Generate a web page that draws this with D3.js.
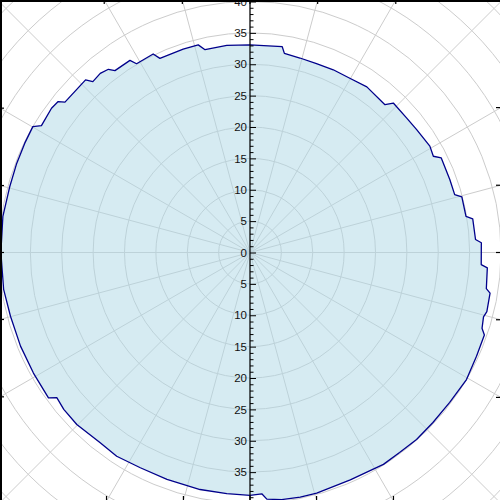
<!DOCTYPE html>
<html>
<head>
<meta charset="utf-8">
<script src="https://cdn.jsdelivr.net/npm/d3@7"></script>
<style>
  body { margin: 0; background: #fff; }
  svg { display: block; }
</style>
</head>
<body>
<svg id="chart" width="500" height="500"></svg>
<script>
// outline points: angle in degrees (clockwise from north) and radial value
const angles = [0, 8.9, 9.8, 14.4, 19.4, 24.5, 29.8, 35.2, 42.4, 43.8, 49.3, 53.6, 59.4, 62.3, 63.7, 70,
    74.2, 75.3, 80.5, 81.4, 86.7, 87.6, 93, 93.7, 98.7, 99.6, 104, 105.4, 108.1, 109.4, 114.6, 120.4,
    126.9, 132.9, 138.3, 143.2, 147.8, 156.2, 164.5, 168.4, 172.7, 176.1, 177.2, 180, 185.5, 191.9,
    200.1, 207, 213.2, 218.2, 225.2, 229.9, 233.1, 234.2, 240.9, 247.8, 255.1, 261.5, 270, 278.3,
    285.3, 290.9, 295.9, 300.1, 301.3, 306, 308.2, 309.1, 316.4, 317.4, 320.1, 322.3, 323.4, 328,
    329, 334, 335.1, 341.8, 346, 347.5, 353.6];
const values = [33.1, 33.2, 32.2, 32.0, 31.9, 32.0, 32.0, 32.3, 31.9, 33.0, 32.9, 33.0, 33.3, 33.0, 34.0, 33.9,
    33.9, 34.9, 34.9, 35.9, 36.0, 36.9, 36.9, 37.9, 38.1, 38.8, 38.9, 38.6, 38.9, 39.6, 39.7, 40.0,
    39.8, 39.8, 39.9, 39.8, 39.9, 39.6, 39.8, 39.8, 39.7, 39.4, 38.5, 38.7, 38.6, 38.6,
    38.5, 38.5, 38.8, 38.6, 38.9, 38.8, 38.5, 39.6, 39.5, 39.5, 39.5, 39.7, 39.7, 39.8,
    39.7, 39.8, 39.9, 40.0, 38.9, 39.1, 38.9, 38.0, 38.0, 37.0, 37.2, 36.9, 36.1, 36.1,
    35.1, 35.2, 34.1, 34.1, 34.1, 33.1, 33.2];

const rings = [5, 10, 15, 20, 25, 30, 35, 40, 45, 50, 55];
const spokes = [0, 15, 30, 45, 60, 75, 90, 105, 120, 135, 150, 165,
    180, 195, 210, 225, 240, 255, 270, 285, 300, 315, 330, 345];
const majorTicks = [-40, -35, -30, -25, -20, -15, -10, -5, 0, 5, 10, 15, 20, 25, 30, 35, 40];

const width = 500, height = 500;
const cx = 250, cy = 252.5;
const rad = Math.PI / 180;

const svg = d3.select("#chart");
const r = d3.scaleLinear().domain([0, 40]).range([0, 251]);
const y = d3.scaleLinear().domain([-40, 40]).range([cy + 251, cy - 251]);

svg.append("rect").attr("width", width).attr("height", height).attr("fill", "#fff");

const plot = svg.append("g").attr("transform", `translate(${cx},${cy})`);

// grid
const grid = plot.append("g")
    .attr("fill", "none")
    .attr("stroke", "#cccccc")
    .attr("stroke-width", 1);

grid.selectAll("circle")
    .data(rings)
    .join("circle")
        .attr("r", d => r(d));

grid.selectAll("line")
    .data(spokes)
    .join("line")
        .attr("x2", d => 420 * Math.sin(d * rad))
        .attr("y2", d => -420 * Math.cos(d * rad));

// area
const points = angles.map((a, i) => ({a: a, v: values[i]}));
const shape = d3.lineRadial()
    .angle(d => d.a * rad)
    .radius(d => r(d.v))
    .curve(d3.curveLinearClosed);

plot.append("path")
    .datum(points)
    .attr("d", shape)
    .attr("fill", "lightblue")
    .attr("fill-opacity", 0.5)
    .attr("stroke", "#00008b")
    .attr("stroke-width", 1.3)
    .attr("stroke-linejoin", "round");

// radial axis, labels on the left, ticks pointing right
const axisG = svg.append("g").attr("transform", `translate(${cx},0)`);

axisG.append("g")
    .call(d3.axisLeft(y)
        .tickValues(d3.range(-40, 41).filter(d => d % 5 !== 0))
        .tickSizeInner(-3.5)
        .tickSizeOuter(0)
        .tickFormat(""))
    .call(g => g.select(".domain").remove());

axisG.append("g")
    .call(d3.axisLeft(y)
        .tickValues(majorTicks)
        .tickSizeInner(-6)
        .tickSizeOuter(0)
        .tickPadding(3)
        .tickFormat(d => Math.abs(d)))
    .call(g => g.select(".domain").remove())
    .call(g => g.selectAll("text")
        .attr("font-family", "Liberation Sans, Arial, sans-serif")
        .attr("font-size", 11.5)
        .attr("fill", "#111"));

axisG.append("line")
    .attr("y1", 0).attr("y2", height)
    .attr("stroke", "#000")
    .attr("stroke-width", 1.2);

// frame with angular ticks where spokes meet it
const W = 501, H = 501;
const frameTicks = [];
spokes.forEach(a => {
    const dx = Math.sin(a * rad), dy = -Math.cos(a * rad);
    const hits = [];
    if (dx > 1e-9) hits.push({t: (W - cx) / dx, side: "r"});
    if (dx < -1e-9) hits.push({t: -cx / dx, side: "l"});
    if (dy > 1e-9) hits.push({t: (H - cy) / dy, side: "b"});
    if (dy < -1e-9) hits.push({t: -cy / dy, side: "t"});
    hits.sort((p, q) => p.t - q.t);
    if (hits.length > 1 && hits[1].t - hits[0].t < 4) return;
    const h = hits[0];
    frameTicks.push({x: cx + h.t * dx, y: cy + h.t * dy, side: h.side});
});

const frame = svg.append("g").attr("stroke", "#000");
frame.selectAll("line")
    .data(frameTicks)
    .join("line")
        .attr("stroke-width", 1.2)
        .attr("x1", d => d.x)
        .attr("y1", d => d.y)
        .attr("x2", d => d.side === "l" ? d.x + 4 : d.side === "r" ? d.x - 5 : d.x)
        .attr("y2", d => d.side === "t" ? d.y + 4 : d.side === "b" ? d.y - 5 : d.y);

frame.append("rect")
    .attr("x", 1).attr("y", 1)
    .attr("width", W - 1).attr("height", H - 1)
    .attr("fill", "none")
    .attr("stroke-width", 2);
</script>
</body>
</html>
